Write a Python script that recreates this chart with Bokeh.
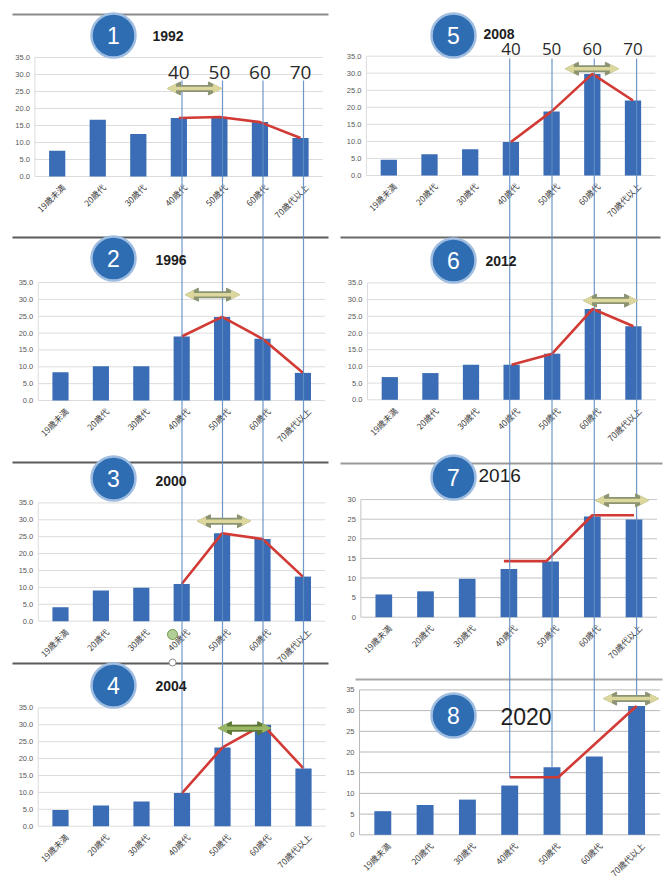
import math
from bokeh.plotting import figure
from bokeh.models import Range1d, Arrow, NormalHead
from bokeh.core.properties import value
from bokeh.embed import file_html
from bokeh.resources import INLINE

W, H = 667, 882

# ---- data -------------------------------------------------------------
categories = ["19歳未満", "20歳代", "30歳代", "40歳代", "50歳代", "60歳代", "70歳代以上"]
years = ["1992", "1996", "2000", "2004", "2008", "2012", "2016", "2020"]

share_1992 = [7.6, 16.7, 12.5, 17.2, 17.5, 16.0, 11.3]
share_1996 = [8.4, 10.2, 10.2, 19.0, 24.8, 18.3, 8.2]
share_2000 = [4.1, 9.1, 9.9, 11.0, 26.0, 24.3, 13.2]
share_2004 = [4.8, 6.1, 7.3, 9.8, 23.3, 30.0, 17.1]
share_2008 = [4.6, 6.2, 7.7, 9.8, 18.8, 29.8, 22.0]
share_2012 = [6.8, 8.0, 10.5, 10.5, 13.8, 27.2, 22.0]
share_2016 = [5.8, 6.6, 9.8, 12.3, 14.2, 25.7, 24.9]
share_2020 = [5.7, 7.2, 8.5, 11.9, 16.3, 18.9, 31.1]

# red trend lines over the older age groups (category index, value)
trend_2016_x = [2.88, 3.9, 5.0, 6.0]
trend_2016_y = [14.3, 14.3, 26.0, 26.0]
trend_2020_x = [3.0, 4.15, 6.0]
trend_2020_y = [13.9, 13.9, 31.1]

guide_ages = ["40", "50", "60", "70"]

shares = [share_1992, share_1996, share_2000, share_2004,
          share_2008, share_2012, share_2016, share_2020]

# ---- layout -----------------------------------------------------------
# per panel: first bar centre px, bar pitch px, zero line px, px per unit,
# axis max, tick step, decimal labels
geom = [
    (56.7, 40.55, 176.0, 3.40, 35, 5, True),
    (60.0, 40.40, 400.0, 3.37, 35, 5, True),
    (60.0, 40.40, 620.7, 3.38, 35, 5, True),
    (60.0, 40.50, 825.7, 3.38, 35, 5, True),
    (388.3, 40.70, 175.0, 3.41, 35, 5, True),
    (389.3, 40.60, 399.3, 3.34, 35, 5, True),
    (383.3, 41.70, 616.7, 3.92, 30, 5, False),
    (382.3, 42.30, 834.3, 4.14, 35, 5, False),
]
badge_pos = [(113, 35), (113, 258), (113, 478), (113, 685),
             (453, 35), (453, 260), (453, 477), (453, 715)]
year_pos = [(152, 35), (155, 259), (155, 480), (155, 685),
            (483, 33), (485, 260), (478, 475), (500, 716)]
year_style = [("14px", "bold")] * 6 + [("19px", "normal"), ("23px", "normal")]
grid_colors = ["#dcdcdc"] * 6 + ["#c4c4c4", "#b8b8b8"]
# double arrow: from index, to index, level
arrows = [(2.72, 4.05, 25.9), (3.09, 4.43, 31.4), (3.39, 4.70, 29.6), (3.90, 5.19, 29.0),
          (4.34, 5.64, 31.3), (4.77, 6.10, 29.7), (5.08, 6.35, 29.8), (5.22, 6.52, 32.9)]

BAR = "#3a6db5"
RED = "#d23a35"
GUIDE = "#5f8dc2"
X_LO, X_HI = -0.55, 6.55

p = figure(width=W, height=H, x_range=Range1d(0, W), y_range=Range1d(H, 0),
           x_axis_type=None, y_axis_type=None, output_backend="svg",
           toolbar_location=None, min_border=0, title=None)
p.outline_line_color = None
p.background_fill_color = "white"
p.border_fill_color = "white"

for k, (x0, dx, y0, ky, ymax, step, dec) in enumerate(geom, start=1):
    s = -x0 / dx
    p.extra_x_ranges[f"x{k}"] = Range1d(s, s + W / dx)
    s = -(H - y0) / ky
    p.extra_y_ranges[f"y{k}"] = Range1d(s, s + H / ky)

# panel separators
sep_x0 = [12, 12, 12, 12, 340, 340, 355]
sep_x1 = [328, 328, 328, 328, 660, 662, 662]
sep_y = [14, 237, 462, 663, 237, 463, 679]
sep_c = ["#8a8a8a", "#5a5a5a", "#5a5a5a", "#5a5a5a", "#6a6a6a", "#9a9a9a", "#a8a8a8"]
p.segment(x0=sep_x0, x1=sep_x1, y0=sep_y, y1=sep_y, line_color=sep_c, line_width=2)

for k in range(1, 9):
    x0, dx, y0, ky, ymax, step, dec = geom[k - 1]
    xn, yn = f"x{k}", f"y{k}"
    vals = shares[k - 1]
    ticks = list(range(0, ymax + 1, step))
    gc = grid_colors[k - 1]
    p.segment(x0=[X_LO] * len(ticks), x1=[X_HI] * len(ticks), y0=ticks, y1=ticks,
              line_color=gc, line_width=1, x_range_name=xn, y_range_name=yn)
    p.segment(x0=[X_LO], x1=[X_LO], y0=[0], y1=[ymax], line_color=gc, line_width=1,
              x_range_name=xn, y_range_name=yn)
    labels = [f"{t:.1f}" if dec else f"{t}" for t in ticks]
    p.text(x=[X_LO] * len(ticks), y=ticks, text=labels, x_offset=-5,
           text_align="right", text_baseline="middle", text_font_size="7.5px",
           text_color="#595959", text_font=value("Liberation Sans"),
           x_range_name=xn, y_range_name=yn)
    idx = list(range(len(categories)))
    p.vbar(x=idx, top=vals, bottom=0, width=0.4, fill_color=BAR, line_color=None,
           x_range_name=xn, y_range_name=yn)
    p.text(x=idx, y=[0] * len(idx), text=categories, angle=math.pi / 4,
           x_offset=6, y_offset=9, text_align="right", text_baseline="middle",
           text_font=value("Noto Sans CJK JP"), text_font_size="8.5px",
           text_color="#404040", x_range_name=xn, y_range_name=yn)

    # red trend line across the older groups
    if k == 7:
        tx, ty = trend_2016_x, trend_2016_y
    elif k == 8:
        tx, ty = trend_2020_x, trend_2020_y
    else:
        tx, ty = idx[3:], vals[3:]
    p.line(tx, ty, line_color=RED, line_width=2.6, x_range_name=xn, y_range_name=yn)

    # double-headed arrow marking the peak generation
    a0, a1, lev = arrows[k - 1]
    if k == 4:
        body, edge = "#9ab866", "#5e7a36"
    else:
        body, edge = "#dcd79c", "#8b9372"
    p.add_layout(Arrow(x_start=a0, x_end=a1, y_start=lev, y_end=lev,
                       start=NormalHead(size=13, fill_color=edge, line_color=edge),
                       end=NormalHead(size=13, fill_color=edge, line_color=edge),
                       line_color=edge, line_width=7, x_range_name=xn, y_range_name=yn))
    p.add_layout(Arrow(x_start=a0, x_end=a1, y_start=lev, y_end=lev,
                       start=NormalHead(size=8, fill_color=body, line_color=body),
                       end=NormalHead(size=8, fill_color=body, line_color=body),
                       line_color=body, line_width=3.5, x_range_name=xn, y_range_name=yn))

# vertical guides for the 40s..70s, running down each column
for col, (last, top_px, lab_panel, lab_y, lab_size) in enumerate(
        [(4, 80, 1, 72, "19px"), (8, 58, 5, 48, "17px")]):
    x0, dx, y0, ky, ymax, step, dec = geom[last - 1]
    v_top = (y0 - top_px) / ky
    vals = shares[last - 1]
    if last == 4:
        ends = [vals[3], vals[4], arrows[3][2], vals[6]]
    else:
        ends = [trend_2020_y[0], vals[4], 25.0, arrows[7][2]]
    gx = [3, 4, 5, 6]
    p.segment(x0=gx, x1=gx, y0=ends, y1=[v_top] * 4, line_color=GUIDE, line_width=1.2,
              line_alpha=0.9, x_range_name=f"x{last}", y_range_name=f"y{last}")
    p.text(x=gx, y=[lab_y] * 4, text=guide_ages, text_align="center",
           text_baseline="middle", text_font=value("Open Sans"), text_font_size=lab_size,
           text_color="#2a2a2a", x_range_name=f"x{lab_panel}")

# small handle marks left on the 2000 panel
p.scatter(x=[172], y=[634], size=10, marker="circle", fill_color="#a5c684",
          line_color="#6f9a4e", fill_alpha=0.85)
p.scatter(x=[172], y=[662], size=7, marker="circle", fill_color="white",
          line_color="#8a8a8a", line_width=1)

# numbered badges and years
bx = [b[0] for b in badge_pos]
by = [b[1] for b in badge_pos]
p.scatter(x=bx, y=by, size=44, marker="circle", fill_color="#2f6db3",
          line_color="#9fbde0", line_width=2.5)
p.text(x=bx, y=by, text=[str(i) for i in range(1, 9)], text_align="center",
       text_baseline="middle", text_color="white", text_font_size="23px",
       text_font=value("Liberation Sans"))
for (yx, yy), yr, (fs, fw) in zip(year_pos, years, year_style):
    p.text(x=[yx], y=[yy], text=[yr], text_align="left", text_baseline="middle",
           text_font=value("Liberation Sans"), text_font_size=fs, text_font_style=fw,
           text_color="#1e1e1e")

open("out.html", "w").write(file_html(p, INLINE))
